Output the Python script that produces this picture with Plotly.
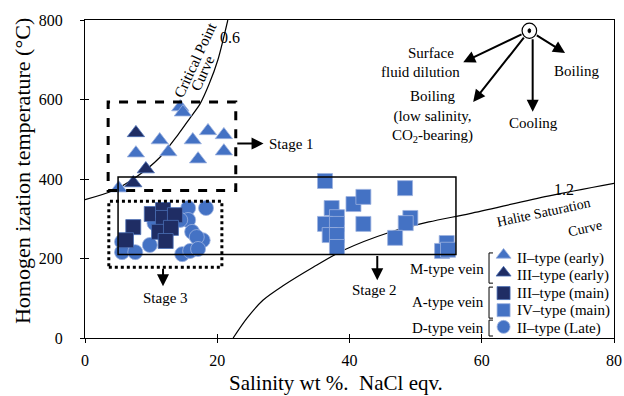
import plotly.graph_objects as go

# ---------------- data ----------------
crit_x = [0, 4.3, 8.0, 11.3, 14.0, 15.9, 17.4, 18.8, 20.1, 21.6]
crit_y = [348, 371, 408, 454, 510, 554, 589, 640, 700, 800]

halite_x = [22.4, 24.5, 26.9, 30.0, 34.5, 39.0, 46.1, 52.0, 58.2, 70.0, 80.0]
halite_y = [0, 50, 95, 132, 178, 220, 266, 292, 313, 357, 389]

tri_light_x = [14.4, 14.8, 11.3, 16.3, 18.6, 21.0, 7.7, 12.6, 17.1, 21.0, 5.1]
tri_light_y = [581, 568, 498, 498, 521, 511, 465, 468, 450, 470, 377]

tri_dark_x = [7.7, 9.2, 7.3]
tri_dark_y = [516, 425, 390]

circ_x = [15.6, 18.3, 15.6, 14.4, 16.2, 17.8, 16.9, 9.8, 10.5, 5.6, 5.6, 7.6, 14.7, 15.9, 17.1]
circ_y = [327, 327, 297, 297, 267, 246, 254, 234, 289, 242, 216, 216, 211, 219, 224]

sq_dark_x = [10.1, 11.8, 11.8, 13.6, 7.3, 6.2, 11.2, 13.0, 12.2]
sq_dark_y = [312, 322, 302, 309, 279, 246, 267, 277, 244]

sq_light_x = [36.3, 37.3, 38.1, 36.3, 38.1, 37.0, 38.1, 38.1, 40.6, 42.1, 42.1,
              48.4, 49.2, 48.5, 46.9, 54.7, 54.0, 54.9]
sq_light_y = [395, 327, 304, 287, 287, 259, 259, 229, 337, 355, 287,
              377, 302, 289, 252, 239, 219, 222]

x_ticks = [0, 20, 40, 60, 80]
y_ticks = [0, 200, 400, 600, 800]

# --------------- style ---------------
FONT = "Liberation Serif, Times New Roman, serif"
LIGHT = "#4472C4"
LIGHT_EDGE = "#9DB3DF"
DARK = "#1F2D64"
DARK_EDGE = "#4A6FB5"
MS = 15

fig = go.Figure()

line_style = dict(color="black", width=1.2, shape="spline", smoothing=0.8)
fig.add_trace(go.Scatter(x=crit_x, y=crit_y, mode="lines", line=line_style, hoverinfo="skip"))
fig.add_trace(go.Scatter(x=halite_x, y=halite_y, mode="lines", line=line_style, hoverinfo="skip"))

def pts(x, y, symbol, fill, edge):
    return go.Scatter(x=x, y=y, mode="markers",
                      marker=dict(symbol=symbol, size=MS, color=fill,
                                  line=dict(color=edge, width=0.8)),
                      hoverinfo="x+y")

fig.add_trace(pts(tri_light_x, tri_light_y, "triangle-up", LIGHT, LIGHT_EDGE))
fig.add_trace(pts(tri_dark_x, tri_dark_y, "triangle-up", DARK, DARK_EDGE))
fig.add_trace(pts(circ_x, circ_y, "circle", LIGHT, LIGHT_EDGE))
fig.add_trace(pts(sq_dark_x, sq_dark_y, "square", DARK, DARK_EDGE))
fig.add_trace(pts(sq_light_x, sq_light_y, "square", LIGHT, LIGHT_EDGE))

# custom legend markers
leg = [("triangle-up", LIGHT, LIGHT_EDGE, 209),
       ("triangle-up", DARK, DARK_EDGE, 164),
       ("square", DARK, DARK_EDGE, 113),
       ("square", LIGHT, LIGHT_EDGE, 70),
       ("circle", LIGHT, LIGHT_EDGE, 28)]
for sym, fc, ec, yy in leg:
    fig.add_trace(go.Scatter(x=[63.3], y=[yy], mode="markers",
                             marker=dict(symbol=sym, size=13, color=fc, line=dict(color=ec, width=0.8)),
                             hoverinfo="skip", cliponaxis=False))

# dummy trace for inner tick axes
fig.add_trace(go.Scatter(x=[0], y=[0], xaxis="x2", yaxis="y2", mode="markers",
                         marker=dict(opacity=0), hoverinfo="skip"))

shapes = []
# stage boxes
shapes.append(dict(type="rect", xref="x", yref="y", x0=3.5, x1=22.8, y0=371, y1=594,
                   line=dict(color="black", width=3, dash="dash")))
shapes.append(dict(type="rect", xref="x", yref="y", x0=5.0, x1=56.1, y0=210, y1=405,
                   line=dict(color="black", width=1.5)))
shapes.append(dict(type="rect", xref="x", yref="y", x0=3.6, x1=20.7, y0=178, y1=344,
                   line=dict(color="black", width=3, dash="dot")))
# legend brackets
for y0, y1 in [(138, 214), (50, 128), (5, 45)]:
    shapes.append(dict(type="path", xref="x", yref="y",
                       path=f"M 61.7 {y1} L 61.1 {y1} L 61.1 {y0} L 61.7 {y0}",
                       line=dict(color="black", width=1)))
# process diagram circle
shapes.append(dict(type="circle", xref="x", yref="y", x0=66.1, x1=68.3, y0=754, y1=792,
                   line=dict(color="black", width=1.2), fillcolor="white"))
shapes.append(dict(type="circle", xref="x", yref="y", x0=67.0, x1=67.4, y0=768, y1=778,
                   line=dict(color="black", width=1), fillcolor="black"))

ann = []
def txt(x, y, s, size=15, xanchor="center", yanchor="middle", angle=0, align="center"):
    ann.append(dict(x=x, y=y, xref="x", yref="y", text=s, showarrow=False,
                    font=dict(family=FONT, size=size, color="black"),
                    xanchor=xanchor, yanchor=yanchor, textangle=angle, align=align))

def arrow(x0, y0, x1, y1, standoff=0):
    ann.append(dict(x=x1, y=y1, ax=x0, ay=y0, xref="x", yref="y", axref="x", ayref="y",
                    text="", showarrow=True, arrowhead=2, arrowsize=1.2, arrowwidth=2,
                    arrowcolor="black", startstandoff=standoff))

# stage arrows + labels
arrow(22.8, 489, 27.0, 489)
txt(27.5, 489, "Stage 1", xanchor="left")
arrow(44.2, 210, 44.2, 145)
txt(43.8, 121, "Stage 2")
arrow(11.8, 178, 11.8, 130)
txt(12.1, 100, "Stage 3")

# process diagram
cx, cy = 67.2, 773
arrow(cx, cy, 57.2, 694, standoff=7)
arrow(cx, cy, 58.7, 594, standoff=7)
arrow(67.7, cy, 67.7, 569, standoff=7)
arrow(cx, cy, 72.6, 717, standoff=7)
txt(52.3, 717, "Surface", size=15)
txt(50.7, 669, "fluid dilution", size=15)
txt(74.4, 672, "Boiling", size=15)
txt(52.5, 557, "Boiling<br>(low salinity,<br>CO<sub>2</sub>-bearing)", size=15)
txt(67.8, 541, "Cooling", size=15)

# curve labels
txt(16.7, 699, "Critical Point", size=15, angle=-65)
txt(17.8, 667, "Curve", size=15, angle=-65)
txt(21.9, 755, "0.6", size=16)
txt(72.5, 373, "1.2", size=16)
txt(69.3, 316, "Halite Saturation", size=14, angle=-12)
txt(75.6, 276, "Curve", size=14, angle=-12)

# legend texts
txt(65.0, 201, "II\u2013type (early)", xanchor="left")
txt(65.0, 156, "III\u2013type (early)", xanchor="left")
txt(65.0, 113, "III\u2013type (main)", xanchor="left")
txt(65.0, 68, "IV\u2013type (main)", xanchor="left")
txt(65.0, 25, "II\u2013type (Late)", xanchor="left")
txt(60.6, 174, "M-type vein", xanchor="right")
txt(60.6, 91, "A-type vein", xanchor="right")
txt(60.6, 25, "D-type vein", xanchor="right")

# axis titles
ann.append(dict(x=0.475, y=-0.143, xref="paper", yref="paper", showarrow=False,
                text="Salinity wt %.  NaCl eqv.", xanchor="center", yanchor="middle",
                font=dict(family=FONT, size=21, color="black")))
ann.append(dict(x=-0.119, y=0.525, xref="paper", yref="paper", showarrow=False,
                text="Homogen ization temperature (°C)", textangle=-90,
                xanchor="center", yanchor="middle",
                font=dict(family=FONT, size=22, color="black")))

axis_common = dict(showgrid=False, zeroline=False, showline=True, linecolor="black",
                   linewidth=1, mirror=True, ticks="outside", ticklen=4, tickcolor="black",
                   tickwidth=1, automargin=False,
                   tickfont=dict(family=FONT, size=16, color="black"))

fig.update_layout(
    width=624, height=396,
    margin=dict(l=85, r=10, t=20, b=58, autoexpand=False),
    plot_bgcolor="white", paper_bgcolor="white",
    showlegend=False,
    font=dict(family=FONT, color="black"),
    xaxis=dict(range=[0, 80], tickvals=x_ticks, ticklabelstandoff=4, **axis_common),
    yaxis=dict(range=[0, 800], tickvals=y_ticks, ticklabelstandoff=14, **axis_common),
    xaxis2=dict(range=[0, 80], tickvals=x_ticks, overlaying="x", side="bottom",
                showticklabels=False, ticks="inside", ticklen=4, tickcolor="black",
                showgrid=False, zeroline=False, showline=False, automargin=False),
    yaxis2=dict(range=[0, 800], tickvals=y_ticks, overlaying="y", side="left",
                showticklabels=False, ticks="inside", ticklen=4, tickcolor="black",
                showgrid=False, zeroline=False, showline=False, automargin=False),
    shapes=shapes,
    annotations=ann,
)

fig.write_html("out.html")
